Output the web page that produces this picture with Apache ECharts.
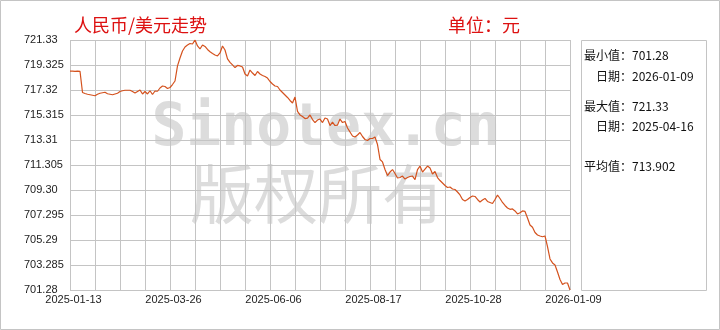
<!DOCTYPE html>
<html><head><meta charset="utf-8">
<script src="https://cdn.jsdelivr.net/npm/echarts@6/dist/echarts.min.js"></script>
<style>html,body{margin:0;padding:0;background:#fff}#c{width:720px;height:330px}</style>
</head><body><div id="c"></div>
<script>
const titleText = '人民币/美元走势';
const unitText = '单位：元';
const xTickLabels = ['2025-01-13', '2025-03-26', '2025-06-06', '2025-08-17', '2025-10-28', '2026-01-09'];
const yTickLabels = ['701.28', '703.285', '705.29', '707.295', '709.30', '711.305', '713.31', '715.315', '717.32', '719.325', '721.33'];
const yMin = 701.28;
const yMax = 721.33;
const statMin = '701.28';
const statMinDate = '2026-01-09';
const statMax = '721.33';
const statMaxDate = '2025-04-16';
const statAvg = '713.902';
const rateValues = [
  718.84, 718.84, 718.82, 718.84, 718.82, 717.12, 717.04, 716.98, 716.94, 716.90,
  716.86, 716.98, 717.06, 717.10, 717.14, 717.02, 716.98, 716.94, 717.00, 717.06,
  717.20, 717.26, 717.30, 717.30, 717.30, 717.20, 717.08, 717.20, 717.32, 717.00,
  717.20, 717.00, 717.26, 716.96, 717.24, 717.22, 717.48, 717.64, 717.60, 717.44,
  717.52, 717.76, 718.04, 719.25, 719.89, 720.45, 720.77, 720.93, 721.05, 721.01,
  721.33, 720.85, 720.61, 720.93, 720.81, 720.57, 720.39, 720.25, 720.13, 720.05,
  720.29, 720.85, 720.53, 719.81, 719.53, 719.33, 719.12, 719.29, 719.25, 719.17,
  718.60, 718.44, 718.92, 718.68, 718.48, 718.80, 718.60, 718.48, 718.40, 718.28,
  718.00, 717.80, 717.64, 717.60, 717.32, 717.12, 716.92, 716.72, 716.48, 716.28,
  716.76, 715.60, 715.32, 715.20, 715.03, 715.07, 715.32, 714.95, 714.71, 714.91,
  714.99, 714.71, 715.07, 714.99, 714.47, 714.75, 714.47, 714.51, 714.99, 714.71,
  714.79, 714.27, 713.95, 713.63, 713.55, 713.71, 713.91, 713.59, 713.35, 713.27,
  713.43, 713.43, 713.55, 712.95, 711.75, 711.55, 710.94, 710.46, 710.74, 710.94,
  710.62, 710.26, 710.30, 710.42, 710.18, 710.30, 710.38, 710.42, 710.14, 710.94,
  711.22, 710.74, 710.98, 711.22, 711.06, 710.58, 710.78, 710.30, 710.06, 709.86,
  709.66, 709.50, 709.54, 709.38, 709.34, 709.14, 708.90, 708.54, 708.42, 708.54,
  708.70, 708.82, 708.78, 708.54, 708.34, 708.50, 708.62, 708.38, 708.30, 708.22,
  708.54, 708.90, 708.62, 708.30, 708.06, 707.86, 707.75, 707.78, 707.62, 707.38,
  707.47, 707.62, 707.58, 707.05, 706.49, 706.31, 705.89, 705.69, 705.61, 705.55,
  705.61, 704.75, 703.77, 703.45, 703.29, 702.72, 702.12, 701.72, 701.84, 701.84,
  701.28
];

const pointsPerGrid = (rateValues.length - 1) / 20;
const pointsPerLabel = pointsPerGrid * 4;
const categories = rateValues.map((v, i) => String(i));
const gridColor = '#c4c4c4';
const labelFont = '"Liberation Sans", Arial, sans-serif';
const cjk = '"Noto Sans CJK SC", sans-serif';

const chart = echarts.init(document.getElementById('c'), null, {renderer: 'canvas'});
chart.setOption({
  animation: false,
  backgroundColor: '#fff',
  grid: {left: 70, right: 150, top: 40, bottom: 40, containLabel: false},
  xAxis: [{
    type: 'category',
    data: categories,
    boundaryGap: false,
    axisLine: {show: false},
    axisTick: {show: false},
    splitLine: {show: true, interval: (i) => i % pointsPerGrid === 0, lineStyle: {color: gridColor, width: 1}},
    axisLabel: {
      interval: (i) => i % pointsPerLabel === 0,
      formatter: (v, i) => (i % pointsPerLabel === 0 ? xTickLabels[i / pointsPerLabel] : ''),
      margin: 4, fontSize: 11, color: '#222', fontFamily: labelFont, padding: [0, 0, 0, 7]
    }
  }],
  yAxis: [{
    type: 'value', min: yMin, max: yMax, show: false, splitLine: {show: false}
  }, {
    type: 'value', min: 0, max: yTickLabels.length - 1, interval: 1, position: 'left',
    axisLine: {show: false}, axisTick: {show: false},
    splitLine: {show: true, lineStyle: {color: gridColor, width: 1}},
    axisLabel: {
      formatter: (v) => yTickLabels[Math.round(v)],
      align: 'left', margin: 46, fontSize: 11, color: '#222', fontFamily: labelFont,
      verticalAlign: 'middle', padding: [0, 0, 8, 0]
    }
  }],
  series: [{
    type: 'line',
    xAxisIndex: 0, yAxisIndex: 0,
    data: rateValues,
    symbol: 'none',
    smooth: false,
    lineStyle: {color: '#d4521e', width: 1.2},
    z: 5
  }],
  graphic: [
    {type: 'rect', z: -20, shape: {x: 0.5, y: 0.5, width: 719, height: 329}, style: {fill: '#fff', stroke: '#c4c4c4', lineWidth: 1}},
    {type: 'text', z: -10, x: 326, y: 130, style: {text: 'Sinotex.cn', font: 'bold 58px "DejaVu Sans Mono", monospace', fill: '#dcdcdc', align: 'center', verticalAlign: 'middle'}},
    {type: 'text', z: -10, x: 318, y: 194, style: {text: '版权所有', font: '64px ' + cjk, fill: '#dcdcdc', align: 'center', verticalAlign: 'middle'}},
    {type: 'text', x: 74, y: 25, style: {text: titleText, font: '18px ' + cjk, fill: '#dd1111', verticalAlign: 'middle'}},
    {type: 'text', x: 448, y: 25, style: {text: unitText, font: '18px ' + cjk, fill: '#dd1111', verticalAlign: 'middle'}},
    {type: 'rect', shape: {x: 581.5, y: 40.5, width: 125, height: 250}, style: {fill: 'none', stroke: '#c4c4c4', lineWidth: 1}},
    {type: 'text', x: 584, y: 55, style: {text: '最小值：' + statMin, font: '12px ' + cjk, fill: '#111', verticalAlign: 'middle'}},
    {type: 'text', x: 596, y: 76, style: {text: '日期：' + statMinDate, font: '12px ' + cjk, fill: '#111', verticalAlign: 'middle'}},
    {type: 'text', x: 584, y: 106, style: {text: '最大值：' + statMax, font: '12px ' + cjk, fill: '#111', verticalAlign: 'middle'}},
    {type: 'text', x: 596, y: 126, style: {text: '日期：' + statMaxDate, font: '12px ' + cjk, fill: '#111', verticalAlign: 'middle'}},
    {type: 'text', x: 584, y: 166, style: {text: '平均值：' + statAvg, font: '12px ' + cjk, fill: '#111', verticalAlign: 'middle'}}
  ]
});
</script>
</body></html>
